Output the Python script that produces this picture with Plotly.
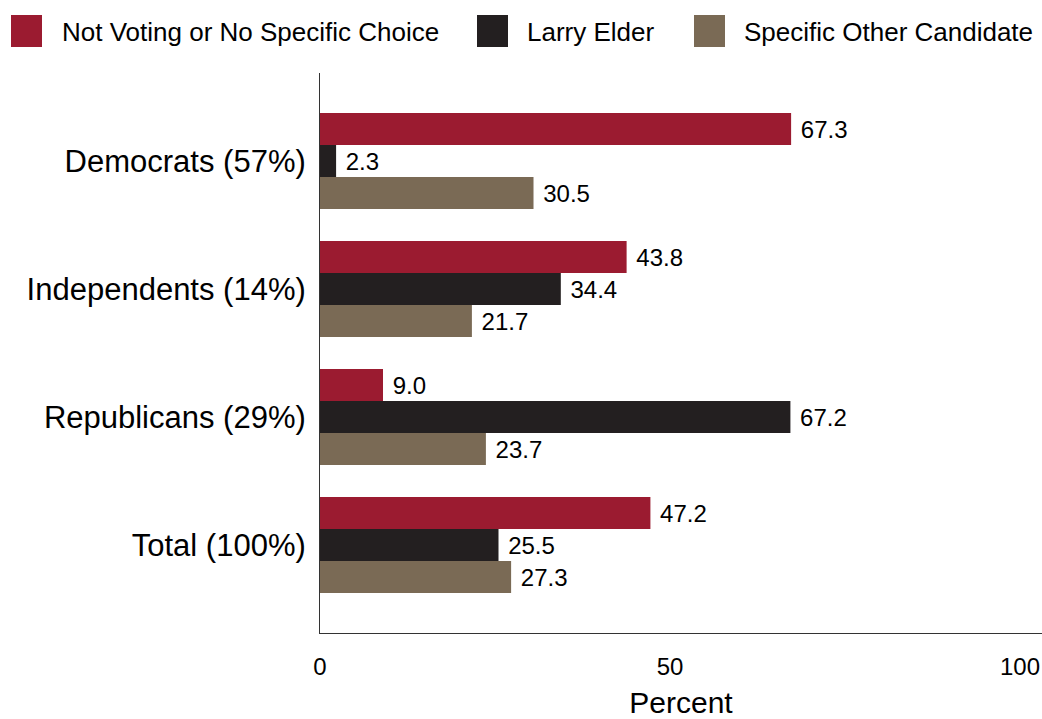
import plotly.graph_objects as go

categories = ["Democrats (57%)", "Independents (14%)", "Republicans (29%)", "Total (100%)"]
series_names = ["Not Voting or No Specific Choice", "Larry Elder", "Specific Other Candidate"]
not_voting = [67.3, 43.8, 9.0, 47.2]
larry_elder = [2.3, 34.4, 67.2, 25.5]
other_candidate = [30.5, 21.7, 23.7, 27.3]
x_ticks = [0, 50, 100]

colors = ["#9B1B30", "#231F20", "#7A6A55"]
series_values = [not_voting, larry_elder, other_candidate]

FONT = "Liberation Sans, Arial, sans-serif"

fig = go.Figure()
for name, vals, col in zip(series_names, series_values, colors):
    fig.add_trace(go.Bar(
        y=categories, x=vals, name=name, orientation="h",
        marker=dict(color=col, line=dict(width=0)),
        text=[f"{v:.1f}" for v in vals],
        texttemplate="\u00a0%{text}",
        textposition="outside", cliponaxis=False,
        textfont=dict(size=24, color="#000000", family=FONT),
        showlegend=False,
    ))

# manual legend (squares + labels)
W = 722.0
H = 560.0
L = 320.0
BOT = 633.0
def px(x):
    return (x - L) / W
def py(y):
    return (BOT - y) / H

legend_items = [(11, 60), (477, 525), (694, 742)]
shapes = []
annotations = []
for (sx, tx), name, col in zip(legend_items, series_names, colors):
    shapes.append(dict(type="rect", xref="paper", yref="paper",
                       x0=px(sx), x1=px(sx + 31), y0=py(47), y1=py(15),
                       fillcolor=col, line=dict(width=0)))
    annotations.append(dict(xref="paper", yref="paper", x=px(tx), y=py(32),
                            text=name, showarrow=False, xanchor="left", yanchor="middle",
                            font=dict(size=26, color="#000000", family=FONT)))

fig.update_layout(
    width=1042, height=719,
    margin=dict(l=320, r=0, t=73, b=86, pad=0),
    plot_bgcolor="white", paper_bgcolor="white",
    barmode="group", bargap=0.25, bargroupgap=0,
    font=dict(family=FONT, color="#000000"),
    shapes=shapes, annotations=annotations,
    xaxis=dict(range=[0, 103.14], tickvals=x_ticks, ticktext=[str(t) for t in x_ticks],
               showgrid=False, zeroline=False, showline=True, linecolor="#333333", linewidth=1,
               ticks="", tickfont=dict(size=24, family=FONT), ticklabelstandoff=12,
               automargin=False,
               title=dict(text="Percent", font=dict(size=30, family=FONT), standoff=23)),
    yaxis=dict(range=[3.6875, -0.6875], showgrid=False, zeroline=False, showline=True,
               linecolor="#333333", linewidth=1, ticks="", automargin=False,
               tickfont=dict(size=31, family=FONT), ticklabelstandoff=7),
)

fig.write_html("out.html", config={"displayModeBar": False},
               post_script="document.body.style.margin='0';document.body.style.overflow='hidden';")
